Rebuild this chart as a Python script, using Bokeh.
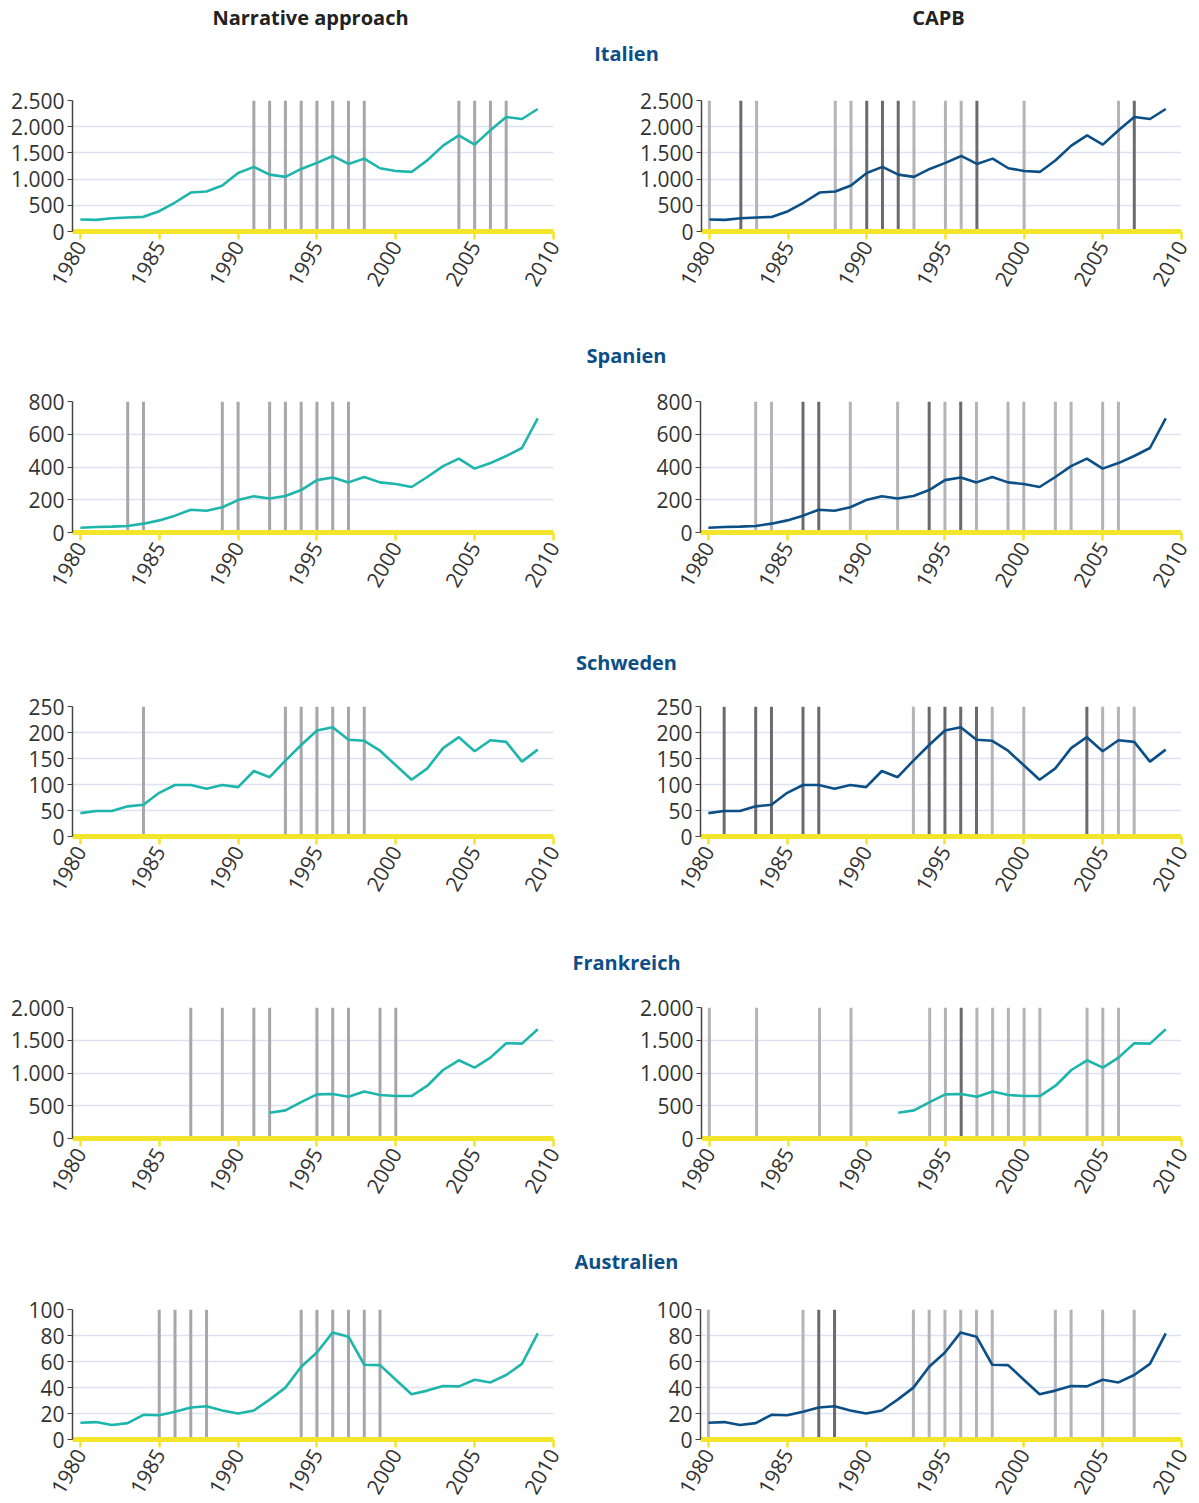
from math import pi
from bokeh.plotting import figure
from bokeh.layouts import column, row
from bokeh.models import Range1d, FixedTicker, CustomJSTickFormatter
from bokeh.core.properties import value
from bokeh.embed import file_html
from bokeh.resources import INLINE

# ---------------- data ----------------
years = list(range(1980, 2010))
france_years = list(range(1992, 2010))

italy = [229, 222, 254, 267, 280, 388, 553, 743, 762, 877, 1118, 1233, 1086, 1042, 1194,
         1309, 1442, 1290, 1391, 1207, 1156, 1137, 1360, 1639, 1836, 1658, 1931, 2185, 2147, 2338]
spain = [29, 34, 36, 40, 54, 74, 103, 139, 133, 154, 198, 221, 208, 223, 259,
         320, 336, 306, 339, 306, 296, 278, 339, 405, 451, 390, 424, 467, 516, 697]
sweden = [45, 49, 49, 58, 61, 84, 99, 99, 92, 99, 95, 126, 114, 146, 176,
          204, 210, 186, 184, 165, 137, 109, 131, 170, 191, 164, 185, 182, 144, 167]
france = [393, 429, 556, 673, 679, 638, 719, 663, 648, 648, 806, 1046, 1194, 1082, 1235,
          1454, 1449, 1668]
australia = [12.9, 13.4, 11.1, 12.6, 19.0, 18.7, 21.3, 24.6, 25.6, 22.3, 20.0, 22.3, 30.7, 39.9, 55.9,
             66.9, 82.4, 79.1, 57.5, 57.2, 46.0, 34.8, 37.6, 41.1, 40.9, 46.0, 43.9, 49.6, 58.2, 81.7]

countries = ["Italien", "Spanien", "Schweden", "Frankreich", "Australien"]
col_titles = ["Narrative approach", "CAPB"]
x_ticks = [1980, 1985, 1990, 1995, 2000, 2005, 2010]
y_max = [2500, 800, 250, 2000, 100]
y_step = [500, 200, 50, 500, 20]

# episode years
narr_events = [
    [1991, 1992, 1993, 1994, 1995, 1996, 1997, 1998, 2004, 2005, 2006, 2007],
    [1983, 1984, 1989, 1990, 1992, 1993, 1994, 1995, 1996, 1997],
    [1984, 1993, 1994, 1995, 1996, 1997, 1998],
    [1987, 1989, 1991, 1992, 1995, 1996, 1997, 1999, 2000],
    [1985, 1986, 1987, 1988, 1994, 1995, 1996, 1997, 1998, 1999],
]
capb_light = [
    [1980, 1983, 1988, 1989, 1993, 1995, 1996, 2000, 2006],
    [1983, 1984, 1989, 1992, 1995, 1997, 1999, 2000, 2002, 2003, 2005, 2006],
    [1993, 1998, 2000, 2005, 2006, 2007],
    [1980, 1983, 1987, 1989, 1994, 1995, 1997, 1998, 1999, 2000, 2001, 2004, 2005, 2006],
    [1980, 1986, 1993, 1994, 1995, 1996, 1997, 1998, 2002, 2003, 2005, 2007],
]
capb_dark = [
    [1982, 1990, 1991, 1992, 1997, 2007],
    [1986, 1987, 1994, 1996],
    [1981, 1983, 1984, 1986, 1987, 1994, 1995, 1996, 1997, 2004],
    [1996],
    [1987, 1988],
]

series_x = [years, years, years, france_years, years]
series_y = [italy, spain, sweden, france, australia]

# ---------------- styles ----------------
TEAL = "#1db5ac"
BLUE = "#0b4f86"
series_color_left = [TEAL, TEAL, TEAL, TEAL, TEAL]
series_color_right = [BLUE, BLUE, BLUE, TEAL, BLUE]
NARR_GRAY = "#a6a6ab"
LIGHT_GRAY = "#b4b4b8"
DARK_GRAY = "#6b6b6f"
YELLOW = "#f3e52c"
FONT = "Open Sans"

FULL_W = 1199
LEFT_W = 636
RIGHT_W = 563
FRAME_W = 481
BORDER_L = [72, 64]
BORDER_TOP = 15

frame_tops = [100, 401, 706, 1007, 1309]   # page coordinates
frame_hs = [131, 131, 130, 131, 130]
title_ys = [53, 355, 662, 962, 1261]
bottom_borders = [68, 68, 68, 68, 64]

fmt = CustomJSTickFormatter(code="""
    const s = Math.round(tick).toString();
    return s.replace(/\\B(?=(\\d{3})+(?!\\d))/g, ".");
""")


def panel(i, right):
    fh = frame_hs[i]
    bb = bottom_borders[i]
    width = RIGHT_W if right else LEFT_W
    bl = BORDER_L[1] if right else BORDER_L[0]
    br = width - bl - FRAME_W
    p = figure(width=width, height=BORDER_TOP + fh + bb,
               x_range=Range1d(1979.5, 2010), y_range=Range1d(0, y_max[i]),
               output_backend="svg", toolbar_location=None,
               min_border_left=bl, min_border_right=br,
               min_border_top=BORDER_TOP, min_border_bottom=bb)
    p.outline_line_color = None
    p.background_fill_color = "white"
    p.border_fill_color = "white"

    p.xgrid.visible = False
    p.ygrid.grid_line_color = "#dde3ee"
    p.ygrid.grid_line_width = 1.5
    yt = list(range(0, y_max[i] + 1, y_step[i]))
    p.yaxis.ticker = FixedTicker(ticks=yt)
    p.yaxis.formatter = fmt
    p.xaxis.ticker = FixedTicker(ticks=x_ticks)
    p.xaxis.major_label_orientation = pi / 3

    for ax in (p.xaxis, p.yaxis):
        ax.major_label_text_font = FONT
        ax.major_label_text_font_size = "21px"
        ax.major_label_text_color = "#333333"
        ax.minor_tick_line_color = None
        ax.major_tick_in = 0

    p.xaxis.axis_line_color = YELLOW
    p.xaxis.axis_line_width = 5
    p.xaxis.major_tick_line_color = YELLOW
    p.xaxis.major_tick_line_width = 2.5
    p.xaxis.major_tick_out = 8
    p.xaxis.major_label_standoff = 3

    p.yaxis.axis_line_color = "#444444"
    p.yaxis.axis_line_width = 1.5
    p.yaxis.major_tick_line_color = "#444444"
    p.yaxis.major_tick_out = 5
    p.yaxis.major_label_standoff = 3

    top = y_max[i]
    if right:
        groups = [(capb_light[i], LIGHT_GRAY), (capb_dark[i], DARK_GRAY)]
        color = series_color_right[i]
    else:
        groups = [(narr_events[i], NARR_GRAY)]
        color = series_color_left[i]
    for ev, c in groups:
        p.segment(x0=ev, x1=ev, y0=[0] * len(ev), y1=[top] * len(ev),
                  line_color=c, line_width=3)
    p.line(series_x[i], series_y[i], line_color=color, line_width=2.6)
    return p


def strip(h, labels):
    s = figure(width=FULL_W, height=h, x_range=Range1d(0, FULL_W), y_range=Range1d(h, 0),
               x_axis_type=None, y_axis_type=None, min_border=0,
               output_backend="svg", toolbar_location=None)
    s.outline_line_color = None
    s.grid.visible = False
    s.background_fill_color = "white"
    s.border_fill_color = "white"
    xs = [l[0] for l in labels]
    ys = [l[1] for l in labels]
    txt = [l[2] for l in labels]
    cols = [l[3] for l in labels]
    s.text(x=xs, y=ys, text=txt, text_color=cols, text_font=value(FONT),
           text_font_size="20px", text_font_style="bold",
           text_align="center", text_baseline="middle")
    return s


items = []
page_y = 0  # current page y
ROW_TITLE_X = 626
for i, name in enumerate(countries):
    fig_top = frame_tops[i] - BORDER_TOP
    h = fig_top - page_y
    labels = [(ROW_TITLE_X, title_ys[i] - page_y, name, "#0d4e86")]
    if i == 0:
        labels += [(310, 17 - page_y, col_titles[0], "#222222"),
                   (938, 17 - page_y, col_titles[1], "#222222")]
    items.append(strip(h, labels))
    items.append(row(panel(i, False), panel(i, True)))
    page_y = frame_tops[i] + frame_hs[i] + bottom_borders[i]

layout = column(*items)
open("out.html", "w").write(file_html(layout, INLINE))
